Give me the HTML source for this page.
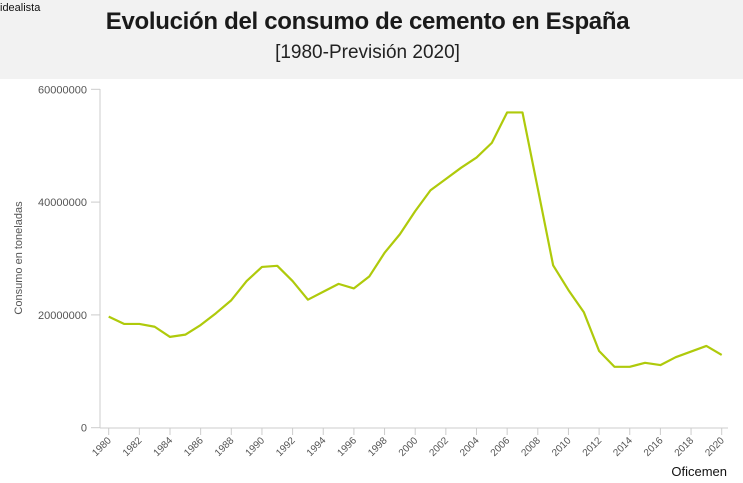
<!DOCTYPE html>
<html><head><meta charset="utf-8"><style>
body{margin:0;width:743px;height:483px;overflow:hidden;background:#fff;font-family:"Liberation Sans",sans-serif}
#hdr{position:absolute;left:0;top:0;width:743px;height:79px;background:#f2f2f2}
</style></head><body>
<div id="hdr"></div>
<div style="position:absolute;left:0;top:2px;font-size:11px;color:#111">idealista</div>
<div style="position:absolute;left:0;width:735px;top:8px;text-align:center;font-size:24px;font-weight:bold;color:#1a1a1a;letter-spacing:-0.3px">Evolución del consumo de cemento en España</div>
<div style="position:absolute;left:0;width:735px;top:42px;text-align:center;font-size:19px;color:#222">[1980-Previsión 2020]</div>
<svg id="c" width="743" height="483" style="position:absolute;left:0;top:0"></svg>
<script>
const years=[1980,1981,1982,1983,1984,1985,1986,1987,1988,1989,1990,1991,1992,1993,1994,1995,1996,1997,1998,1999,2000,2001,2002,2003,2004,2005,2006,2007,2008,2009,2010,2011,2012,2013,2014,2015,2016,2017,2018,2019,2020];
const consumo=[19.7,18.4,18.4,17.9,16.1,16.5,18.2,20.3,22.6,26.0,28.5,28.7,26.0,22.7,24.1,25.5,24.7,26.8,31.0,34.3,38.4,42.1,44.1,46.1,47.9,50.5,55.9,55.9,42.4,28.8,24.4,20.5,13.6,10.8,10.8,11.5,11.1,12.5,13.5,14.5,12.9].map(v=>v*1e6);
const yTicks=[0,20000000,40000000,60000000];
const yTickLabels=["0","20000000","40000000","60000000"];
const xTicks=[1980,1982,1984,1986,1988,1990,1992,1994,1996,1998,2000,2002,2004,2006,2008,2010,2012,2014,2016,2018,2020];
const NS="http://www.w3.org/2000/svg";
const svg=document.getElementById('c');
const x=yr=>108.7+(yr-1980)*15.325;
const y=v=>427.7-v/60000000*338.4;
function mk(t,a,txt){const e=document.createElementNS(NS,t);for(const k in a)e.setAttribute(k,a[k]);if(txt!==undefined)e.textContent=txt;svg.appendChild(e);return e;}
let e=mk('line',{x1:100,y1:89,x2:100,y2:428,stroke:'#ccc','stroke-width':1});


e=mk('line',{x1:100,y1:428,x2:728,y2:428,stroke:'#ccc','stroke-width':1});


yTicks.forEach((t,i)=>{
 const yy=y(t);
 let l=mk('line',{x1:91,y1:yy,x2:100,y2:yy,stroke:'#ccc'});
 
 
 let tx=mk('text',{x:87,y:yy+4,'text-anchor':'end','font-size':11,fill:'#555'},yTickLabels[i]);
 
 
});
xTicks.forEach(t=>{
 const xx=x(t);
 let l=mk('line',{x1:xx,y1:428,x2:xx,y2:435,stroke:'#ccc'});
 
 
 let tx=mk('text',{x:xx+3,y:441,'text-anchor':'end','font-size':10,fill:'#555',transform:`rotate(-45 ${xx+3} 441)`},String(t));
 
 
});
let yl=mk('text',{x:22,y:258,'text-anchor':'middle','font-size':11,fill:'#555',transform:'rotate(-90 22 258)'},'Consumo en toneladas');


let p=mk('polyline',{points:years.map((yr,i)=>x(yr)+','+y(consumo[i])).join(' '),fill:'none',stroke:'#afca0b','stroke-width':2.2,'stroke-linejoin':'round'});


let s=mk('text',{x:727,y:476,'text-anchor':'end','font-size':13,fill:'#111'},'Oficemen');


</script>
</body></html>
